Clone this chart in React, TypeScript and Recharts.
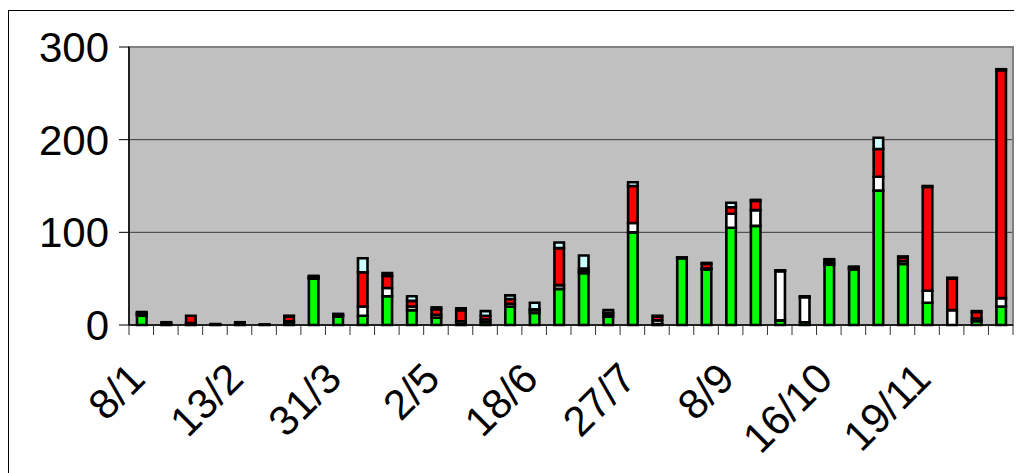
import { BarChart, Bar, XAxis, YAxis, CartesianGrid, ReferenceArea } from 'recharts'

// label shown under every fourth period, blanks in between
const labels = [
  '8/1', '', '', '', '13/2', '', '', '', '31/3', '', '', '',
  '2/5', '', '', '', '18/6', '', '', '', '27/7', '', '', '',
  '8/9', '', '', '', '16/10', '', '', '', '19/11', '', '', '',
]

const green = [10, 1, 1, 0.5, 1, 0.3, 3, 50, 9, 10, 31, 16, 8, 1, 3, 20, 13, 39, 56, 9, 100, 1, 72, 60, 105, 107, 5, 3, 65, 60, 145, 66, 24, 0, 4, 20]
const white = [2, 1, 1, 0.5, 1, 0.3, 1, 1, 1, 10, 9, 4, 3, 3, 3, 3, 3, 4, 2, 3, 10, 4, 0.5, 1, 15, 17, 53, 27, 2, 1, 15, 3, 13, 16, 3, 9]
const red = [1, 1, 8, 0, 1, 0, 5, 1, 1, 37, 13, 6, 6, 12, 4, 5, 1, 40, 3, 1, 40, 4, 0, 5, 7, 10, 0.5, 0.5, 3, 1, 30, 4, 112, 34, 7, 246]
const cyan = [1, 0, 0, 0, 0, 0, 1, 1, 1, 15, 3, 5, 2, 2, 5, 4, 7, 6, 14, 3, 4, 1, 0.5, 1, 5, 1, 0.5, 0.5, 1, 1, 12, 1, 1, 1, 1, 1]

const yTicks = [0, 100, 200, 300]

const data = labels.map((label, i) => ({
  idx: i,
  label,
  green: green[i],
  white: white[i],
  red: red[i],
  cyan: cyan[i],
}))

const font = '"Liberation Sans", Arial, sans-serif'

function XTick(props: any) {
  const { x, y, payload, index } = props
  const half = payload?.offset ?? 12.28
  const label = labels[payload?.value] ?? ''
  const last = index === labels.length - 1
  return (
    <g>
      <line x1={x - half} y1={y} x2={x - half} y2={y + 10} stroke="#333" />
      {last && <line x1={x + half} y1={y} x2={x + half} y2={y + 10} stroke="#333" />}
      {label && (
        <text
          x={x + 6}
          y={y + 56}
          textAnchor="end"
          fontSize={42}
          fontFamily={font}
          fill="#000"
          transform={`rotate(-45, ${x + 6}, ${y + 56})`}
        >
          {label}
        </text>
      )}
    </g>
  )
}

export default function App() {
  return (
    <div style={{ marginTop: 2, width: 1020, height: 470, border: '1px solid #000', boxSizing: 'border-box', background: '#fff' }}>
      <BarChart
        width={1010}
        height={460}
        data={data}
        margin={{ top: 36, right: 6, left: 0, bottom: 0 }}
        barCategoryGap={0}
      >
        <CartesianGrid vertical={false} stroke="#3a3a3a" fill="#c0c0c0" fillOpacity={1} />
        <ReferenceArea y1={0} y2={300} fill="none" stroke="#808080" strokeWidth={2} ifOverflow="extendDomain" />
        <XAxis
          dataKey="idx"
          interval={0}
          tickLine={false}
          tickSize={0}
          tickMargin={0}
          height={146}
          axisLine={{ stroke: '#000', strokeWidth: 1.5 }}
          tick={<XTick />}
        />
        <YAxis
          domain={[0, 300]}
          ticks={yTicks}
          width={120}
          tickSize={10}
          tickMargin={10}
          axisLine={{ stroke: '#000', strokeWidth: 1.5 }}
          tickLine={{ stroke: '#000' }}
          tick={{ fontSize: 42, fontFamily: font, fill: '#000' }}
        />
        <Bar dataKey="green" stackId="a" fill="#00ff00" stroke="#000" strokeWidth={2.6} barSize={9.5} isAnimationActive={false} />
        <Bar dataKey="white" stackId="a" fill="#ffffff" stroke="#000" strokeWidth={2.6} barSize={9.5} isAnimationActive={false} />
        <Bar dataKey="red" stackId="a" fill="#ff0000" stroke="#000" strokeWidth={2.6} barSize={9.5} isAnimationActive={false} />
        <Bar dataKey="cyan" stackId="a" fill="#ccffff" stroke="#000" strokeWidth={2.6} barSize={9.5} isAnimationActive={false} />
      </BarChart>
    </div>
  )
}
